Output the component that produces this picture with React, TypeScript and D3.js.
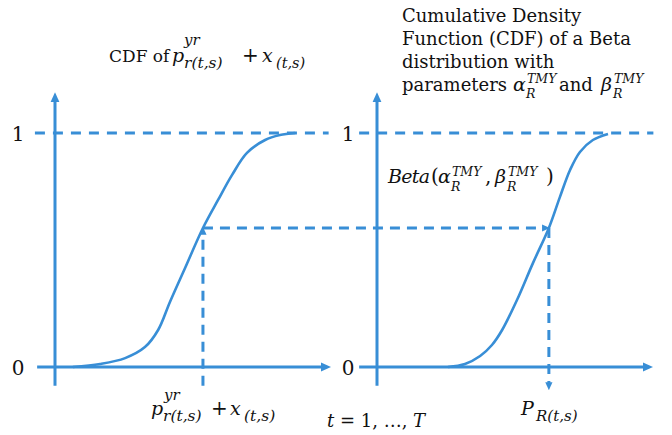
import React from "react";
import * as d3 from "d3";

const W = 672;
const H = 435;
const BLUE = "#388ED6";
const INK = "#111";
const SERIF = "'DejaVu Serif', serif";
const MATH = "'DejaVu Serif', serif";

// CDF levels marked on the vertical axes
const yTicks = [0, 1];

// Empirical CDF of p^yr_r(t,s) + x_(t,s): [value, cumulative probability]
const leftCdf: [number, number][] = [
  [0.65, 0], [1.64, 0.013], [2.55, 0.038], [3.27, 0.085], [3.75, 0.158],
  [4.18, 0.278], [4.73, 0.423], [5.38, 0.594], [5.93, 0.714], [6.44, 0.821],
  [6.98, 0.915], [7.64, 0.97], [8.18, 0.991], [8.73, 1.0],
];

// Beta(alpha_R^TMY, beta_R^TMY) CDF: [value, cumulative probability]
const rightCdf: [number, number][] = [
  [2.58, 0], [3.2, 0.013], [3.75, 0.047], [4.18, 0.094], [4.55, 0.158],
  [5.09, 0.286], [5.67, 0.444], [6.25, 0.594], [6.65, 0.726], [7.02, 0.842],
  [7.38, 0.919], [7.85, 0.97], [8.4, 0.996],
];

// Quantile mapping: same probability level on both CDFs
const probeLevel = 0.594;
const leftQuantile = 5.38;
const rightQuantile = 6.25;

// Text of the description block
const descLines = ["Cumulative Density", "Function (CDF) of a Beta", "distribution with"];

const y = d3.scaleLinear().domain([0, 1]).range([367, 133]);
const xLeft = d3.scaleLinear().domain([0, 10]).range([55, 330]);
const xRight = d3.scaleLinear().domain([0, 10]).range([377, 652]);

const curveLine = (x: d3.ScaleLinear<number, number>) =>
  d3
    .line<[number, number]>()
    .x((d) => x(d[0]))
    .y((d) => y(d[1]))
    .curve(d3.curveCatmullRom.alpha(0.5));

const AXIS_HEAD = 8;
const DASH_HEAD = 6;

type TProps = {
  x: number;
  y: number;
  size?: number;
  len?: number;
  anchor?: "start" | "middle" | "end";
  children: React.ReactNode;
};

// upright serif text
function Rm({ x, y, size = 18, len, anchor = "start", children }: TProps) {
  return (
    <text
      x={x}
      y={y}
      textAnchor={anchor}
      fill={INK}
      style={{ fontFamily: SERIF, fontSize: size, fontStyle: "normal" }}
      {...(len ? { textLength: len, lengthAdjust: "spacing" } : {})}
    >
      {children}
    </text>
  );
}

// italic math text
function Mi({ x, y, size = 19, len, anchor = "start", children }: TProps) {
  return (
    <text
      x={x}
      y={y}
      textAnchor={anchor}
      fill={INK}
      style={{ fontFamily: MATH, fontSize: size, fontStyle: "italic" }}
      {...(len ? { textLength: len, lengthAdjust: "spacing" } : {})}
    >
      {children}
    </text>
  );
}

function Panel({
  x,
  data,
  tickX,
  dashFrom,
  dashTo,
}: {
  x: d3.ScaleLinear<number, number>;
  data: [number, number][];
  tickX: number;
  dashFrom: number;
  dashTo: number;
}) {
  const x0 = x(0);
  return (
    <g>
      {/* reference line at CDF = 1 */}
      <line
        x1={x(dashFrom)}
        x2={x(dashTo)}
        y1={y(1)}
        y2={y(1)}
        stroke={BLUE}
        strokeWidth={3}
        strokeDasharray="10 8"
      />
      {/* vertical axis */}
      <line
        x1={x0}
        x2={x0}
        y1={y(-0.08)}
        y2={y(1.17) + AXIS_HEAD}
        stroke={BLUE}
        strokeWidth={3}
        markerEnd="url(#axisHead)"
      />
      {/* horizontal axis */}
      <line
        x1={x(-0.65)}
        x2={x(10) - AXIS_HEAD}
        y1={y(0)}
        y2={y(0)}
        stroke={BLUE}
        strokeWidth={3}
        markerEnd="url(#axisHead)"
      />
      <path d={curveLine(x)(data) ?? ""} fill="none" stroke={BLUE} strokeWidth={2.6} />
      {yTicks.map((t) => (
        <Rm key={t} x={tickX} y={y(t) + 7.5} size={20} anchor="middle">
          {t}
        </Rm>
      ))}
    </g>
  );
}

export default function App() {
  const lx = xLeft(leftQuantile);
  const rx = xRight(rightQuantile);
  const py = y(probeLevel);
  const it = { fontStyle: "italic" as const };
  return (
    <svg width={W} height={H} style={{ position: "absolute", left: 0, top: 0, background: "#fff" }}>
      <defs>
        <marker
          id="axisHead"
          viewBox="0 0 10 10"
          refX={1}
          refY={5}
          markerWidth={10}
          markerHeight={10}
          markerUnits="userSpaceOnUse"
          orient="auto"
        >
          <path d="M0,0.5 L10,5 L0,9.5 z" fill={BLUE} />
        </marker>
        <marker
          id="dashHead"
          viewBox="0 0 10 10"
          refX={1}
          refY={5}
          markerWidth={8}
          markerHeight={8}
          markerUnits="userSpaceOnUse"
          orient="auto"
        >
          <path d="M0,0.5 L10,5 L0,9.5 z" fill={BLUE} />
        </marker>
      </defs>

      <Panel x={xLeft} data={leftCdf} tickX={18} dashFrom={-0.73} dashTo={9.95} />
      <Panel x={xRight} data={rightCdf} tickX={348} dashFrom={-0.65} dashTo={10.05} />

      {/* quantile mapping arrows */}
      <line x1={lx} x2={lx} y1={y(-0.08)} y2={py + DASH_HEAD} stroke={BLUE} strokeWidth={3}
        strokeDasharray="10 7" markerEnd="url(#dashHead)" />
      <line x1={lx} x2={rx - DASH_HEAD} y1={py} y2={py} stroke={BLUE} strokeWidth={3}
        strokeDasharray="10 7" markerEnd="url(#dashHead)" />
      <line x1={rx} x2={rx} y1={py} y2={y(-0.094) - DASH_HEAD} stroke={BLUE} strokeWidth={3}
        strokeDasharray="10 7" markerEnd="url(#dashHead)" />

      {/* left title */}
      <Rm x={109} y={62} size={17}>CDF of</Rm>
      <Mi x={172} y={62}>p</Mi>
      <Mi x={184} y={45} size={15}>yr</Mi>
      <Mi x={184} y={68} size={15.5}>r(t,s)</Mi>
      <Rm x={242} y={62} size={20}>+</Rm>
      <Mi x={262} y={62}>x</Mi>
      <Mi x={276} y={68} size={14.5}>(t,s)</Mi>

      {/* right title */}
      {descLines.map((line, i) => (
        <Rm key={line} x={402} y={22 + i * 23}>
          {line}
        </Rm>
      ))}
      <Rm x={402} y={91}>parameters</Rm>
      <Rm x={559} y={91}>and</Rm>
      <Mi x={513} y={91}>α</Mi>
      <Mi x={527} y={83} size={12.5}>TMY</Mi>
      <Mi x={526} y={98} size={12.5}>R</Mi>
      <Mi x={601} y={91}>β</Mi>
      <Mi x={614} y={83} size={12.5}>TMY</Mi>
      <Mi x={613} y={98} size={12.5}>R</Mi>

      {/* curve label */}
      <Mi x={388} y={183} len={42}>Beta</Mi>
      <Rm x={431} y={183} size={20}>(</Rm>
      <Mi x={438} y={183}>α</Mi>
      <Mi x={452} y={176} size={12.5}>TMY</Mi>
      <Mi x={451} y={191} size={12.5}>R</Mi>
      <Rm x={485} y={183} size={20}>,</Rm>
      <Mi x={495} y={183}>β</Mi>
      <Mi x={508} y={176} size={12.5}>TMY</Mi>
      <Mi x={507} y={191} size={12.5}>R</Mi>
      <Rm x={546} y={183} size={20}>)</Rm>

      {/* bottom labels */}
      <Mi x={151} y={415}>p</Mi>
      <Mi x={164} y={400} size={15}>yr</Mi>
      <Mi x={163} y={421} size={15.5}>r(t,s)</Mi>
      <Rm x={211} y={415} size={20}>+</Rm>
      <Mi x={230} y={415}>x</Mi>
      <Mi x={244} y={421} size={15.5}>(t,s)</Mi>

      <text x={327} y={427} fill={INK} style={{ fontFamily: SERIF, fontSize: 18 }}>
        <tspan style={it}>t</tspan> = 1, …, <tspan style={it}>T</tspan>
      </text>

      <Mi x={521} y={415}>P</Mi>
      <Mi x={536} y={421} size={15}>R(t,s)</Mi>
    </svg>
  );
}
